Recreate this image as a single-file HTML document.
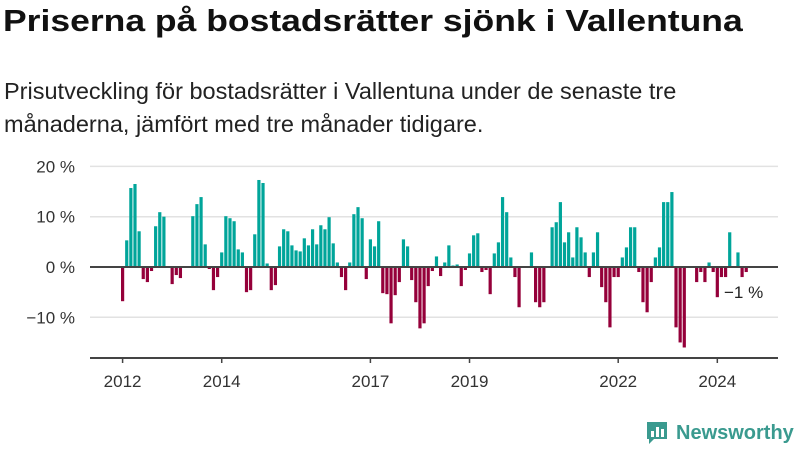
<!DOCTYPE html>
<html><head><meta charset="utf-8">
<style>
body{margin:0;width:800px;height:450px;background:#fff;font-family:"Liberation Sans",sans-serif;overflow:hidden;position:relative}
h1{position:absolute;left:3px;top:3px;margin:0;font-size:31px;font-weight:bold;color:#111;transform-origin:0 0;transform:scaleX(1.145);white-space:nowrap}
p{position:absolute;left:4px;top:75px;margin:0;font-size:23.5px;line-height:33px;color:#222;width:740px}
svg{position:absolute;left:0;top:0}
</style></head><body>
<h1>Priserna på bostadsrätter sjönk i Vallentuna</h1>
<p>Prisutveckling för bostadsrätter i Vallentuna under de senaste tre<br>månaderna, jämfört med tre månader tidigare.</p>
<svg id="chart" width="800" height="450"></svg>
<script>
const values=[-6.8,5.3,15.7,16.5,7.1,-2.4,-3,-0.8,8.1,10.9,10,0,-3.4,-1.6,-2.2,0,0,10.1,12.5,13.9,4.5,-0.4,-4.6,-2,
2.9,10.1,9.7,9.1,3.5,2.9,-5,-4.6,6.5,17.3,16.7,0.7,-4.6,-3.6,4.1,7.5,7.1,4.3,3.3,3.1,5.7,4.3,7.5,4.5,
8.3,7.5,9.9,4.7,0.9,-2,-4.6,0.9,10.5,11.9,9.7,-2.4,5.5,4.1,9.1,-5.2,-5.4,-11.2,-5.6,-3,5.5,4.1,-2.6,-7,
-12.2,-11.2,-3.8,-0.8,2.1,-1.8,0.9,4.3,0.3,0.5,-3.8,-0.6,2.7,6.3,6.7,-1,-0.6,-5.4,2.7,4.9,13.9,10.9,1.9,-2,
-8,0,0,2.9,-7,-8,-7,0,7.9,8.9,12.9,4.9,6.9,1.9,7.9,5.9,2.9,-2,2.9,6.9,-4,-7,-12,-2,-2,1.9,3.9,7.9,
7.9,-1,-7,-9,-3,1.9,3.9,12.9,12.9,14.9,-12,-15,-16,0,0,-3,-1,-3,0.9,-1,-6,-2,-2,6.9,0,2.9,-2,-1];
const yTicks=[20,10,0,-10];
const yTickLabels=["20 %","10 %","0 %","−10 %"];
const xTickYears=[2012,2014,2017,2019,2022,2024];
const startYear=2012;
const NS="http://www.w3.org/2000/svg";
const svg=document.getElementById('chart');
const x0=121,step=4.13,bw=3.2;
const xPos=i=>x0+i*step;
const yPos=v=>267-v*5.03;
function mk(t,a){const e=document.createElementNS(NS,t);for(const k in a)e.setAttribute(k,a[k]);svg.appendChild(e);return e;}
yTicks.forEach((t,i)=>{
  if(t!==0){const g=mk('line',{x1:90,x2:778,y1:yPos(t),y2:yPos(t),stroke:'#e2e2e2','stroke-width':1.5});
  
  }
  const l=mk('text',{x:75,y:yPos(t)+6,'text-anchor':'end','font-size':17,fill:'#333','font-family':'Liberation Sans, sans-serif'});
  l.textContent=yTickLabels[i];
  
  
});
values.forEach((v,i)=>{
  const y=v>=0?yPos(v):yPos(0);
  const h=Math.abs(yPos(v)-yPos(0));
  const r=mk('rect',{x:xPos(i),y:y,width:bw,height:h,fill:v>=0?'#00a59a':'#95003a'});
  
  
});
const z=mk('line',{x1:90,x2:778,y1:yPos(0),y2:yPos(0),stroke:'#444','stroke-width':2});


const ax=mk('line',{x1:90,x2:778,y1:358,y2:358,stroke:'#444','stroke-width':2});


xTickYears.forEach(yr=>{
  const cx=xPos((yr-startYear)*12)+bw/2;
  const tk=mk('line',{x1:cx,x2:cx,y1:358,y2:363,stroke:'#444','stroke-width':1.5});
  
  
  const t=mk('text',{x:cx,y:387,'text-anchor':'middle','font-size':17,fill:'#333','font-family':'Liberation Sans, sans-serif'});
  t.textContent=yr;
  
  
});
const last=values[values.length-1];
const lab=mk('text',{x:724,y:298,'font-size':17,fill:'#222','font-family':'Liberation Sans, sans-serif'});
lab.textContent=(last<0?'−':'')+Math.abs(Math.round(last))+' %';


</script>
<div style="position:absolute;left:645px;top:420px;display:flex;align-items:center">
<svg width="24" height="26" style="position:static"><path d="M2 2h20v17H9l-5 5v-5H2z" fill="#3a9a8f"/><rect x="6" y="11" width="3" height="6" fill="#fff"/><rect x="11" y="7" width="3" height="10" fill="#fff"/><rect x="16" y="9" width="3" height="8" fill="#fff"/></svg>
<span style="margin-left:7px;font-size:20px;color:#3a9a8f;font-weight:bold">Newsworthy</span></div>
</body></html>
